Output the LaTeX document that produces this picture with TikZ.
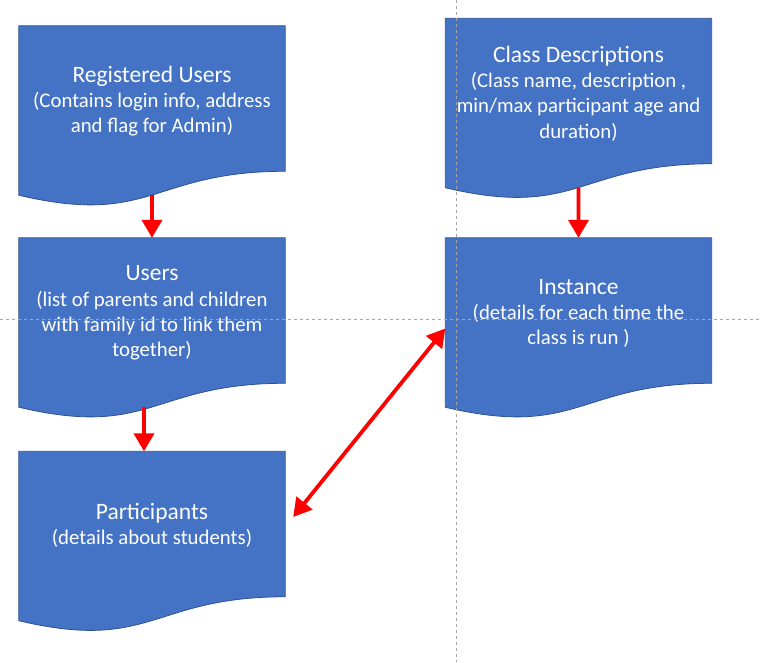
\documentclass[tikz,border=0pt]{standalone}
\usepackage{fontspec}
\setmainfont{Carlito}
\usetikzlibrary{calc,arrows.meta}
\definecolor{docblue}{HTML}{4472C4}
\definecolor{docedge}{HTML}{2F528F}
\definecolor{guide}{HTML}{A6A6A6}
\tikzset{
  box/.style={rectangle,draw=none,minimum width=266pt,minimum height=181pt,inner sep=0pt},
  docfill/.style={fill=docblue,draw=docedge,line width=0.8pt},
  lbl/.style={text=white,align=center,inner sep=0pt,font=\fontsize{20.8}{25.3}\selectfont},
  flow/.style={draw=red,line width=3.8pt,-{Triangle[width=20pt,length=18pt]}},
  flow2/.style={draw=red,line width=3.8pt,{Triangle[width=20pt,length=18pt]}-{Triangle[width=20pt,length=18pt]}},
  guideline/.style={draw=guide,line width=0.9pt,dash pattern=on 3pt off 3pt}
}
\newcommand\docshape[1]{%
  \path[docfill] (#1.north west) -- (#1.north east) -- ($(#1.north east)!0.8019!(#1.south east)$)
    .. controls ($(#1.north)!0.8019!(#1.south)$) and ($(#1.north)!1.1075!(#1.south)$) ..
    ($(#1.north west)!0.9339!(#1.south west)$) -- cycle;}
\newcommand\ttl[1]{{\fontsize{23.5}{26.5}\selectfont #1}}
\begin{document}
\begin{tikzpicture}[x=1pt,y=-1pt]
\useasboundingbox (0,0) rectangle (761,662);
% shapes
\node[box] (ru) at (152,116.5) {};
\node[box] (us) at (152,328.5) {};
\node[box] (pa) at (152,542) {};
\node[box] (cd) at (578.5,109) {};
\node[box] (in) at (578.5,328.5) {};
\docshape{ru}
\docshape{us}
\docshape{pa}
\docshape{cd}
\docshape{in}
% texts
\node[lbl] (t1) at (152,101) {\ttl{Registered Users}\\(Contains login info, address\\and flag for Admin)};
\node[lbl] (t2) at (152,313) {\ttl{Users}\\(list of parents and children\\with family id to link them\\together)};
\node[lbl] (t3) at (152,525.5) {\ttl{Participants}\\(details about students)};
\node[lbl] (t4) at (578.5,93.5) {\ttl{Class Descriptions}\\(Class name, description ,\\min/max participant age and\\duration)};
\node[lbl] (t5) at (578.5,313.5) {\ttl{Instance}\\(details for each time the\\class is run )};
% connector end points
\coordinate (rub) at ($(ru.north)!0.933!(ru.south)$);
\coordinate (usb) at ($(us.north)!0.93!(us.south)+(-8,0)$);
\coordinate (pat) at ($(pa.north)+(-8,0)$);
\coordinate (cdb) at ($(cd.north)!0.933!(cd.south)$);
\coordinate (pae) at ($(pa.east)+(8,-25)$);
% connectors
\draw[flow] (rub) -- (us.north);
\draw[flow] (usb) -- (pat);
\draw[flow] (cdb) -- (in.north);
\draw[flow2] (pae) -- (in.west);
% guides
\coordinate (gv1) at (456.5,0);
\coordinate (gv2) at (456.5,662);
\coordinate (gh1) at (0,319.5);
\coordinate (gh2) at (761,319.5);
\draw[guideline] (gv1) -- (gv2);
\draw[guideline] (gh1) -- (gh2);
\end{tikzpicture}
\end{document}
